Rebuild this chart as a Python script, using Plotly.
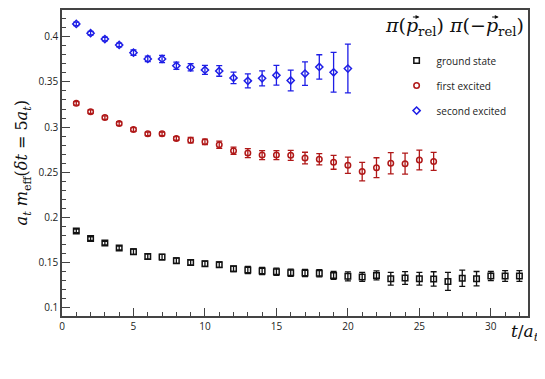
import plotly.graph_objects as go

t_ground = list(range(1, 33))
m_ground = [0.185, 0.1765, 0.1715, 0.166, 0.162, 0.1566, 0.156, 0.152, 0.150, 0.1486,
            0.1475, 0.143, 0.1416, 0.1405, 0.1397, 0.1386, 0.1383, 0.138, 0.1357, 0.1346,
            0.134, 0.1357, 0.132, 0.1328, 0.132, 0.1317, 0.129, 0.1325, 0.132, 0.135,
            0.135, 0.135]
e_ground = [0.002, 0.002, 0.002, 0.002, 0.003, 0.003, 0.003, 0.003, 0.003, 0.003,
            0.003, 0.003, 0.004, 0.004, 0.004, 0.004, 0.004, 0.004, 0.0045, 0.005,
            0.005, 0.005, 0.007, 0.007, 0.007, 0.008, 0.010, 0.009, 0.008, 0.005,
            0.006, 0.006]

t_first = list(range(1, 27))
m_first = [0.3263, 0.3171, 0.3105, 0.3039, 0.2973, 0.2925, 0.2925, 0.2874, 0.2855, 0.2837,
           0.2804, 0.2738, 0.2712, 0.269, 0.269, 0.2687, 0.2657, 0.2643, 0.261, 0.2577,
           0.2507, 0.255, 0.2599, 0.2595, 0.2635, 0.262]
e_first = [0.002, 0.002, 0.002, 0.002, 0.002, 0.002, 0.002, 0.002, 0.003, 0.003,
           0.004, 0.004, 0.005, 0.005, 0.005, 0.0055, 0.0064, 0.0062, 0.0077, 0.009,
           0.0103, 0.011, 0.0117, 0.0117, 0.011, 0.010]

t_second = list(range(1, 21))
m_second = [0.4143, 0.404, 0.3975, 0.391, 0.3824, 0.3755, 0.3755, 0.368, 0.3662, 0.3633,
            0.3622, 0.3545, 0.3512, 0.354, 0.3574, 0.3516, 0.3593, 0.3666, 0.3607, 0.3648]
e_second = [0.002, 0.002, 0.002, 0.002, 0.003, 0.003, 0.004, 0.004, 0.004, 0.005,
            0.0059, 0.0064, 0.0077, 0.0083, 0.011, 0.0114, 0.013, 0.0135, 0.022, 0.027]

series = [
    ("ground state", t_ground, m_ground, e_ground, "square-open", "#111111"),
    ("first excited", t_first, m_first, e_first, "circle-open", "#b01818"),
    ("second excited", t_second, m_second, e_second, "diamond-open", "#1e1ee6"),
]

fig = go.Figure()
for i, (name, t, m, e, sym, col) in enumerate(series):
    fig.add_trace(go.Scatter(
        x=t, y=m, mode="markers", name=name, legendgroup=str(i),
        marker=dict(symbol=sym, size=5.5, color=col, line=dict(width=1.5, color=col)),
        error_y=dict(type="data", array=e, visible=True, color=col, thickness=1.3, width=3),
    ))

axis_font = dict(family="Open Sans", size=10, color="#222222")
fig.update_layout(
    width=537, height=371,
    margin=dict(l=54, r=17, t=0, b=63),
    plot_bgcolor="white", paper_bgcolor="white",
    showlegend=True,
    legend=dict(x=0.718, y=0.882, xanchor="left", yanchor="top",
                bgcolor="rgba(0,0,0,0)", font=dict(family="Open Sans", size=10, color="#222"),
                tracegroupgap=6, itemwidth=30),
    xaxis=dict(range=[0, 32.6], dtick=5, tick0=0, ticks="inside", ticklen=8,
               tickcolor="#444", showline=True, linecolor="#444", linewidth=1.5, mirror=True,
               showgrid=False, zeroline=False, tickfont=axis_font,
               minor=dict(dtick=1, ticks="inside", ticklen=4, tickcolor="#444")),
    yaxis=dict(range=[0.0907, 0.4297], ticks="inside", ticklen=8,
               tickcolor="#444", showline=True, linecolor="#444", linewidth=1.5, mirror=True,
               showgrid=False, zeroline=False, tickfont=axis_font,
               tickvals=[0.1, 0.15, 0.2, 0.25, 0.3, 0.35, 0.4],
               ticktext=["0.1", "0.15", "0.2", "0.25", "0.3", "0.35", "0.4"],
               minor=dict(dtick=0.01, tick0=0.1, ticks="inside", ticklen=4, tickcolor="#444")),
)

serif = "DejaVu Serif"
fig.add_annotation(
    text="<i>π</i>(<i>p</i><sub>rel</sub>) <i>π</i>(−<i>p</i><sub>rel</sub>)",
    xref="paper", yref="paper", x=0.995, y=0.992, xanchor="right", yanchor="top",
    showarrow=False, font=dict(family=serif, size=19, color="#111"))
# vector arrows over the two p's
for xh in (0.767, 0.937):
    fig.add_annotation(
        text="", xref="paper", yref="paper", x=xh, y=0.977,
        axref="pixel", ayref="pixel", ax=-8, ay=0,
        showarrow=True, arrowhead=2, arrowsize=0.7, arrowwidth=1.1, arrowcolor="#111")
fig.add_annotation(
    text="<i>t</i>/<i>a<sub>t</sub></i>",
    xref="paper", yref="paper", x=1.028, y=-0.01, xanchor="right", yanchor="top",
    showarrow=False, font=dict(family=serif, size=17, color="#111"))
fig.add_annotation(
    text="<i>a<sub>t</sub></i> <i>m</i><sub>eff</sub>(<i>δt</i> = 5<i>a<sub>t</sub></i>)",
    xref="paper", yref="paper", x=-0.085, y=0.50, xanchor="center", yanchor="middle",
    textangle=-90, showarrow=False, font=dict(family=serif, size=16, color="#111"))

fig.write_html("out.html")
